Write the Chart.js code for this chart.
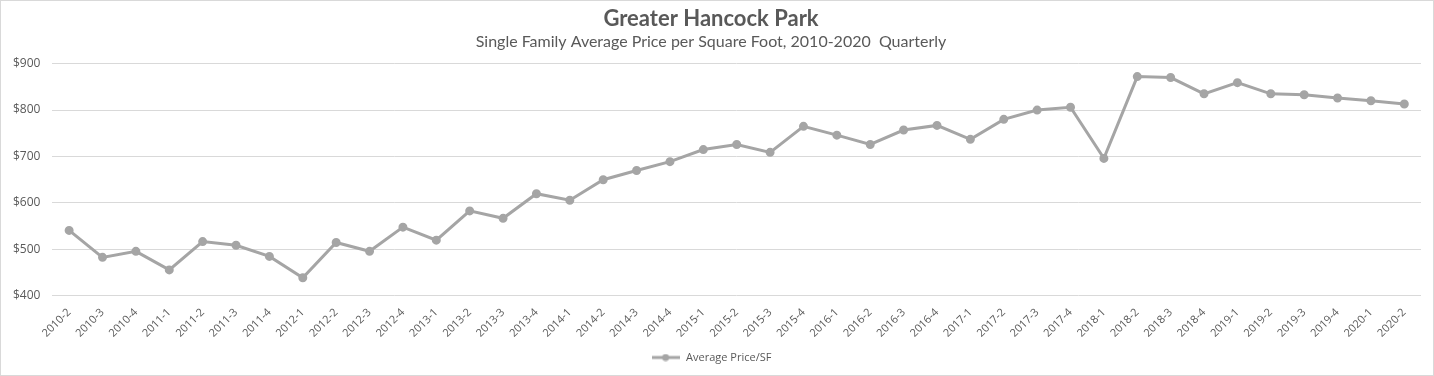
<!DOCTYPE html>
<html>
<head>
<meta charset="utf-8">
<script src="https://cdn.jsdelivr.net/npm/chart.js@4.4.0/dist/chart.umd.min.js"></script>
<style>
html,body{margin:0;padding:0;background:#fff;}
#wrap{position:absolute;left:0;top:0;width:1432px;height:374px;border:1px solid #d9d9d9;}
canvas{display:block;}
</style>
</head>
<body>
<div id="wrap"><canvas id="c" width="1432" height="374"></canvas></div>
<script>
const categories = ["2010-2","2010-3","2010-4","2011-1","2011-2","2011-3","2011-4","2012-1","2012-2","2012-3","2012-4","2013-1","2013-2","2013-3","2013-4","2014-1","2014-2","2014-3","2014-4","2015-1","2015-2","2015-3","2015-4","2016-1","2016-2","2016-3","2016-4","2017-1","2017-2","2017-3","2017-4","2018-1","2018-2","2018-3","2018-4","2019-1","2019-2","2019-3","2019-4","2020-1","2020-2"];
const avgPriceSF = [541,483,496,456,517,509,485,439,515,496,548,520,583,567,620,606,650,670,689,715,726,709,765,746,726,757,767,737,780,800,806,696,872,870,835,859,835,833,826,820,813];
const yMin = 400, yMax = 900, yStep = 100;
const titleText = "Greater Hancock Park";
const subtitleText = "Single Family Average Price per Square Foot, 2010-2020  Quarterly";
const seriesName = "Average Price/SF";

Chart.defaults.font.family = "'Open Sans', 'DejaVu Sans', sans-serif";
Chart.defaults.color = "#595959";

// legend marker: line with a dot
const legendIcon = document.createElement('canvas');
legendIcon.width = 28; legendIcon.height = 8;
(function(){
  const g = legendIcon.getContext('2d');
  g.strokeStyle = '#a5a5a5'; g.lineWidth = 3;
  g.beginPath(); g.moveTo(0,4); g.lineTo(28,4); g.stroke();
  g.fillStyle = '#a5a5a5';
  g.beginPath(); g.arc(14,4,3.5,0,Math.PI*2); g.fill();
})();

new Chart(document.getElementById('c'), {
  type: 'line',
  data: {
    labels: categories,
    datasets: [{
      label: seriesName,
      data: avgPriceSF,
      borderColor: '#a5a5a5',
      backgroundColor: '#a5a5a5',
      borderWidth: 3,
      pointRadius: 3,
      pointHoverRadius: 3,
      pointBackgroundColor: '#a5a5a5',
      pointBorderColor: '#a5a5a5',
      tension: 0
    }]
  },
  options: {
    responsive: false,
    animation: false,
    layout: { padding: { left: 0, right: 12, top: 0, bottom: 2 } },
    plugins: {
      title: {
        display: true,
        text: titleText,
        color: '#595959',
        font: { family: "'Lato', sans-serif", size: 22, weight: 'bold' },
        padding: { top: 5, bottom: 0 }
      },
      subtitle: {
        display: true,
        text: subtitleText,
        color: '#595959',
        font: { family: "'Lato', sans-serif", size: 16 },
        padding: { top: 0, bottom: 12 }
      },
      legend: {
        display: true,
        position: 'bottom',
        labels: {
          color: '#595959',
          font: { size: 11 },
          usePointStyle: true,
          pointStyleWidth: 30,
          padding: 10,
          generateLabels: (chart) => {
            const items = Chart.defaults.plugins.legend.labels.generateLabels(chart);
            items.forEach(it => { it.pointStyle = legendIcon; });
            return items;
          }
        }
      },
      tooltip: { enabled: false }
    },
    scales: {
      x: {
        offset: true,
        grid: { display: false },
        border: { display: false },
        ticks: {
          color: '#595959',
          font: { size: 11 },
          maxRotation: 45,
          minRotation: 45,
          autoSkip: false,
          padding: 2
        }
      },
      y: {
        min: yMin,
        max: yMax,
        grid: { color: '#d9d9d9', lineWidth: 1, drawTicks: false },
        border: { display: false },
        ticks: {
          stepSize: yStep,
          color: '#595959',
          font: { size: 12 },
          padding: 12,
          callback: v => '$' + v
        }
      }
    }
  }
});
</script>
</body>
</html>
